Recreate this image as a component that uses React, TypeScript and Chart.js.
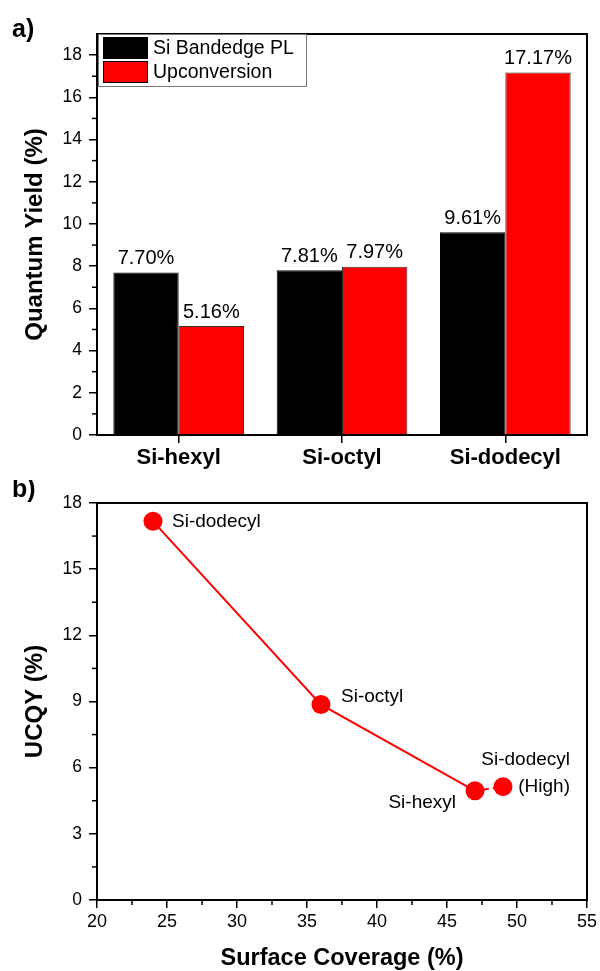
import React, { useEffect, useRef } from 'react';
import { Chart, registerables } from 'chart.js';
Chart.register(...registerables);

const FONT = 'Arial, "Liberation Sans", Helvetica, sans-serif';

// ---------- Panel a data ----------
const categories = ['Si-hexyl', 'Si-octyl', 'Si-dodecyl'];
const seriesNames = ['Si Bandedge PL', 'Upconversion'];
const bandedgePL = [7.70, 7.81, 9.61];
const upconversion = [5.16, 7.97, 17.17];
const yTicksA = [0, 2, 4, 6, 8, 10, 12, 14, 16, 18];

// ---------- Panel b data ----------
const coverage = [24, 36, 47, 49];
const ucqy = [17.17, 8.86, 4.95, 5.14];
const sampleLabels = [['Si-dodecyl'], ['Si-octyl'], ['Si-hexyl'], ['Si-dodecyl', '(High)']];
const xTicksB = [20, 25, 30, 35, 40, 45, 50, 55];
const yTicksB = [0, 3, 6, 9, 12, 15, 18];

const midpoints = (arr: number[]) => arr.slice(1).map((v, i) => (v + arr[i]) / 2);

// frame, minor ticks and panel tag
const framePlugin = {
  id: 'framePlugin',
  afterDraw(chart: any, _args: any, opts: any) {
    const ctx = chart.ctx;
    const a = chart.chartArea;
    ctx.save();
    ctx.strokeStyle = '#000';
    ctx.lineWidth = 2;
    ctx.strokeRect(a.left, a.top, a.right - a.left, a.bottom - a.top);
    ctx.lineWidth = 1.5;
    (opts.minor || []).forEach((m: any) => {
      const s = chart.scales[m.axis];
      m.values.forEach((v: number) => {
        const p = s.getPixelForValue(v);
        ctx.beginPath();
        if (s.isHorizontal()) {
          ctx.moveTo(p, a.bottom);
          ctx.lineTo(p, a.bottom + 5);
        } else {
          ctx.moveTo(a.left, p);
          ctx.lineTo(a.left - 5, p);
        }
        ctx.stroke();
      });
    });
    ctx.fillStyle = '#000';
    ctx.font = `bold 25px ${FONT}`;
    ctx.textAlign = 'left';
    ctx.textBaseline = 'middle';
    ctx.fillText(opts.tag, opts.tagX, opts.tagY);
    ctx.restore();
  },
};

const barLabelPlugin = {
  id: 'barLabelPlugin',
  afterDatasetsDraw(chart: any) {
    const ctx = chart.ctx;
    ctx.save();
    ctx.fillStyle = '#000';
    ctx.font = `20px ${FONT}`;
    ctx.textAlign = 'center';
    ctx.textBaseline = 'bottom';
    chart.data.datasets.forEach((ds: any, i: number) => {
      const meta = chart.getDatasetMeta(i);
      meta.data.forEach((bar: any, j: number) => {
        ctx.fillText(ds.data[j].toFixed(2) + '%', bar.x, bar.y - 4);
      });
    });
    ctx.restore();
  },
};

const legendBoxPlugin = {
  id: 'legendBoxPlugin',
  afterDraw(chart: any) {
    const ctx = chart.ctx;
    const a = chart.chartArea;
    const x0 = a.left + 1;
    const y0 = a.top;
    ctx.save();
    ctx.fillStyle = '#fff';
    ctx.fillRect(x0, y0, 208, 52);
    ctx.strokeStyle = '#777';
    ctx.lineWidth = 1;
    ctx.strokeRect(x0 + 0.5, y0 + 0.5, 208, 52);
    chart.data.datasets.forEach((ds: any, i: number) => {
      const sy = y0 + 3 + i * 24;
      ctx.fillStyle = ds.backgroundColor;
      ctx.fillRect(x0 + 5, sy, 45, 22);
      ctx.strokeStyle = '#000';
      ctx.strokeRect(x0 + 5.5, sy + 0.5, 44, 21);
      ctx.fillStyle = '#000';
      ctx.font = `19.5px ${FONT}`;
      ctx.textAlign = 'left';
      ctx.textBaseline = 'middle';
      ctx.fillText(ds.label, x0 + 55, sy + 12);
    });
    ctx.restore();
  },
};

// label placement next to scatter points (style only)
const labelPlacement = [
  { dx: 19, dy: 0, align: 'left' },
  { dx: 20, dy: -8, align: 'left' },
  { dx: -19, dy: 12, align: 'right' },
  { dx: 67, dy: -27, align: 'right' },
];

const pointLabelPlugin = {
  id: 'pointLabelPlugin',
  afterDatasetsDraw(chart: any) {
    const ctx = chart.ctx;
    const meta = chart.getDatasetMeta(0);
    ctx.save();
    ctx.fillStyle = '#000';
    ctx.font = `19px ${FONT}`;
    ctx.textBaseline = 'middle';
    meta.data.forEach((pt: any, i: number) => {
      const pl = labelPlacement[i];
      ctx.textAlign = pl.align;
      sampleLabels[i].forEach((line, k) => {
        ctx.fillText(line, pt.x + pl.dx, pt.y + pl.dy + k * 27);
      });
    });
    ctx.restore();
  },
};

const axisGrid = {
  display: true,
  drawOnChartArea: false,
  drawTicks: true,
  color: '#000',
  lineWidth: 1.5,
  tickLength: 8,
};
const axisBorder = { display: true, color: '#000', width: 2 };
const tickFont = { family: FONT, size: 17.5 };

function BarPanel() {
  const ref = useRef<HTMLCanvasElement>(null);
  useEffect(() => {
    const chart = new Chart(ref.current as HTMLCanvasElement, {
      type: 'bar',
      data: {
        labels: categories,
        datasets: [
          { label: seriesNames[0], data: bandedgePL, backgroundColor: '#000000', borderColor: '#000000', borderWidth: 1 },
          { label: seriesNames[1], data: upconversion, backgroundColor: '#ff0000', borderColor: '#333333', borderWidth: 1 },
        ],
      },
      options: {
        animation: false,
        responsive: false,
        maintainAspectRatio: false,
        layout: { padding: { top: 34, right: 13, left: 0, bottom: 0 } },
        datasets: { bar: { categoryPercentage: 0.8, barPercentage: 1 } } as any,
        plugins: {
          legend: { display: false },
          tooltip: { enabled: false },
          framePlugin: { tag: 'a)', tagX: 12, tagY: 30, minor: [{ axis: 'y', values: midpoints(yTicksA) }] },
        } as any,
        scales: {
          x: {
            grid: { ...axisGrid, offset: false },
            border: axisBorder,
            ticks: { color: '#000', font: { family: FONT, size: 22, weight: 'bold' }, padding: 2 },
            afterFit: (s: any) => { s.height = 45; },
          },
          y: {
            min: 0,
            max: 19,
            afterBuildTicks: (s: any) => { s.ticks = yTicksA.map((v) => ({ value: v })); },
            grid: axisGrid,
            border: axisBorder,
            ticks: { color: '#000', font: tickFont, padding: 7 },
            title: { display: true, text: 'Quantum Yield (%)', color: '#000', font: { family: FONT, size: 24, weight: 'bold' }, padding: { top: 21, bottom: 0 } },
            afterFit: (s: any) => { s.width = 97; },
          },
        } as any,
      },
      plugins: [framePlugin, barLabelPlugin, legendBoxPlugin],
    });
    return () => chart.destroy();
  }, []);
  return <canvas ref={ref} width={600} height={480} style={{ display: 'block', width: 600, height: 480 }} />;
}

function ScatterPanel() {
  const ref = useRef<HTMLCanvasElement>(null);
  useEffect(() => {
    const chart = new Chart(ref.current as HTMLCanvasElement, {
      type: 'scatter',
      data: {
        datasets: [
          {
            label: 'UCQY',
            data: coverage.map((x, i) => ({ x, y: ucqy[i] })),
            showLine: true,
            borderColor: '#ff0000',
            backgroundColor: '#ff0000',
            borderWidth: 2,
            pointRadius: 9.5,
            pointBorderWidth: 0,
            segment: { borderDash: (c: any) => (c.p1DataIndex === 3 ? [5, 4] : undefined) },
          } as any,
        ],
      },
      options: {
        animation: false,
        responsive: false,
        maintainAspectRatio: false,
        layout: { padding: { top: 23, right: 13, left: 0, bottom: 0 } },
        plugins: {
          legend: { display: false },
          tooltip: { enabled: false },
          framePlugin: {
            tag: 'b)', tagX: 12, tagY: 10,
            minor: [
              { axis: 'x', values: midpoints(xTicksB) },
              { axis: 'y', values: midpoints(yTicksB) },
            ],
          },
        } as any,
        scales: {
          x: {
            type: 'linear',
            min: 20,
            max: 55,
            afterBuildTicks: (s: any) => { s.ticks = xTicksB.map((v) => ({ value: v })); },
            grid: axisGrid,
            border: axisBorder,
            ticks: { color: '#000', font: { family: FONT, size: 18 }, padding: 3 },
            title: { display: true, text: 'Surface Coverage (%)', color: '#000', font: { family: FONT, size: 23.5, weight: 'bold' }, padding: { top: 0, bottom: -2 } },
            afterFit: (s: any) => { s.height = 71; },
          },
          y: {
            type: 'linear',
            min: 0,
            max: 18,
            afterBuildTicks: (s: any) => { s.ticks = yTicksB.map((v) => ({ value: v })); },
            grid: axisGrid,
            border: axisBorder,
            ticks: { color: '#000', font: tickFont, padding: 7 },
            title: { display: true, text: 'UCQY (%)', color: '#000', font: { family: FONT, size: 24, weight: 'bold' }, padding: { top: 21, bottom: 0 } },
            afterFit: (s: any) => { s.width = 97; },
          },
        } as any,
      },
      plugins: [framePlugin, pointLabelPlugin],
    });
    return () => chart.destroy();
  }, []);
  return <canvas ref={ref} width={600} height={491} style={{ display: 'block', width: 600, height: 491 }} />;
}

export default function App() {
  return (
    <div style={{ position: 'absolute', top: 0, left: 0, width: 600, height: 971, background: '#fff' }}>
      <BarPanel />
      <ScatterPanel />
    </div>
  );
}
